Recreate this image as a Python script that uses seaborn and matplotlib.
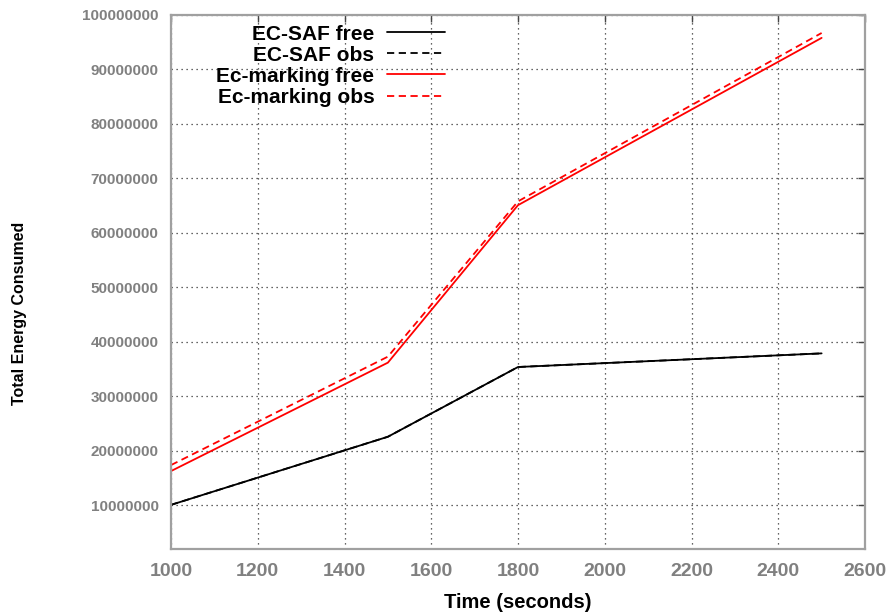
import matplotlib
matplotlib.use("Agg")
import matplotlib.pyplot as plt
import seaborn as sns
import pandas as pd
from matplotlib.ticker import FuncFormatter

# ---- data ----
time_s = [1000, 1500, 1800, 2500]
ecsaf_free = [10.1e6, 22.6e6, 35.4e6, 37.9e6]
ecsaf_obs = [10.1e6, 22.6e6, 35.4e6, 37.9e6]
ecmark_free = [16.3e6, 36.2e6, 65.1e6, 95.8e6]
ecmark_obs = [17.4e6, 37.3e6, 65.8e6, 96.7e6]
series_names = ["EC-SAF free", "EC-SAF obs", "Ec-marking free", "Ec-marking obs"]
x_ticks = [1000, 1200, 1400, 1600, 1800, 2000, 2200, 2400, 2600]
y_ticks = [10e6, 20e6, 30e6, 40e6, 50e6, 60e6, 70e6, 80e6, 90e6, 100e6]

sns.set_style("white")
plt.rcParams["font.family"] = ["Liberation Sans", "DejaVu Sans"]
plt.rcParams["text.color"] = "black"

frames = []
for name, vals in zip(series_names, [ecsaf_free, ecsaf_obs, ecmark_free, ecmark_obs]):
    frames.append(pd.DataFrame({"time": time_s, "energy": vals, "series": name}))
df = pd.concat(frames, ignore_index=True)

fig = plt.figure(figsize=(8.89, 6.16), dpi=100)
ax = fig.add_axes([171 / 889, 1 - 549 / 616, (865 - 171) / 889, (549 - 15) / 616])

styles = {
    "EC-SAF free": ("black", "-"),
    "EC-SAF obs": ("black", (0, (4, 2.5))),
    "Ec-marking free": ("#ff0000", "-"),
    "Ec-marking obs": ("#ff0000", (0, (4, 2.5))),
}
for name in series_names:
    c, ls = styles[name]
    sub = df[df["series"] == name]
    sns.lineplot(data=sub, x="time", y="energy", ax=ax, color=c, linestyle=ls,
                 linewidth=1.3, label=name, estimator=None, sort=False)

ax.set_xlim(1000, 2600)
ax.set_ylim(2e6, 100e6)
ax.set_xticks(x_ticks)
ax.set_yticks(y_ticks)
ax.yaxis.set_major_formatter(FuncFormatter(lambda v, p: f"{int(round(v))}"))

ax.grid(True, color="#333333", linestyle=(0, (1, 3)), linewidth=0.9)
for s in ax.spines.values():
    s.set_color("#a0a0a0")
    s.set_linewidth(1.6)
ax.tick_params(direction="in", length=5, width=1, color="#444444",
               top=True, right=True, labelcolor="#808080")
for lab in ax.get_xticklabels():
    lab.set_fontsize(14)
    lab.set_fontweight("bold")
for lab in ax.get_yticklabels():
    lab.set_fontsize(11)
    lab.set_fontweight("bold")
ax.tick_params(axis="x", pad=10)
ax.tick_params(axis="y", pad=9)

ax.set_xlabel("Time (seconds)", fontsize=14.5, fontweight="bold", color="black")
ax.set_ylabel("Total Energy Consumed", fontsize=11.5, fontweight="bold", color="black")
ax.xaxis.set_label_coords(0.5, (549 - 603) / 534, transform=ax.transAxes)
ax.xaxis.label.set_va("center")
ax.yaxis.set_label_coords((20 - 171) / 694, (549 - 313) / 534, transform=ax.transAxes)
ax.yaxis.label.set_va("center")

leg = ax.legend(loc="upper right", bbox_to_anchor=(0.395, 0.982), frameon=False,
                markerfirst=False, handlelength=2.8, handletextpad=0.6,
                labelspacing=0.1, borderpad=0, borderaxespad=0,
                prop={"weight": "bold", "size": 15})
for t in leg.get_texts():
    t.set_color("black")

fig.savefig("out.png", dpi=100)
